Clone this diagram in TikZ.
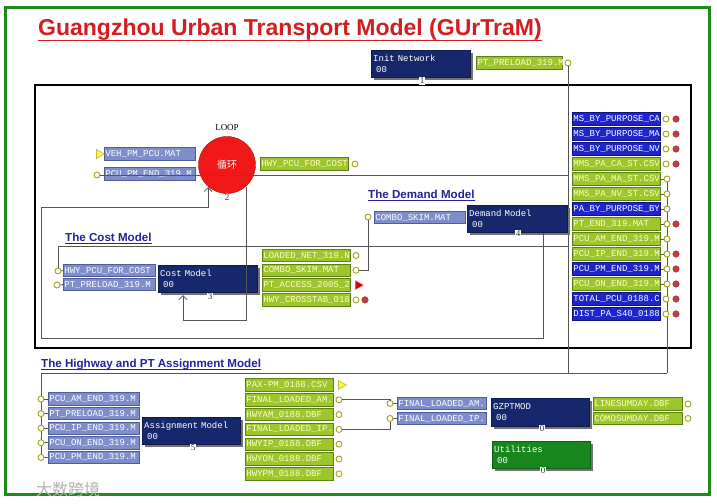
\documentclass[tikz,border=0pt]{standalone}
\usepackage{fontspec}
\setmainfont{Liberation Sans}
\newfontfamily\monof{Liberation Mono}
\newfontfamily\cjk{Noto Sans CJK SC}
\newfontfamily\serf{Liberation Serif}
\usetikzlibrary{shapes.geometric,arrows.meta,shadows}
\definecolor{navy}{HTML}{16276B}
\definecolor{peri}{HTML}{7F8ECB}
\definecolor{periB}{HTML}{4E5C9C}
\definecolor{lgreen}{HTML}{9CC62B}
\definecolor{lgreenB}{HTML}{5E8014}
\definecolor{fblue}{HTML}{1E24CE}
\definecolor{fblueB}{HTML}{10147A}
\definecolor{ugreen}{HTML}{18861C}
\definecolor{framec}{HTML}{1E8A1E}
\definecolor{wirec}{HTML}{555555}
\definecolor{portc}{HTML}{A6A21E}
\definecolor{rdotc}{HTML}{C43C3C}
\definecolor{titlered}{HTML}{D21E1E}
\definecolor{secblue}{HTML}{23239A}
\definecolor{loopred}{HTML}{F01818}
\tikzset{
 fbase/.style={rectangle, draw, line width=0.8pt, minimum height=12.5pt, inner xsep=1pt, inner ysep=0pt, text width=86pt, align=left, font=\monof\fontsize{9}{10}\selectfont, anchor=west},
 ffile/.style={fbase, fill=peri, draw=periB, text=white},
 gfile/.style={fbase, fill=lgreen, draw=lgreenB, text=white!80!yellow},
 bfile/.style={fbase, fill=fblue, draw=fblueB, text=white},
 prog/.style={rectangle, fill=navy, draw=navy!70!black, anchor=north west, minimum height=27pt, inner xsep=2pt, inner ysep=1pt, align=left, text=white, font=\monof\fontsize{9}{11}\selectfont, drop shadow={shadow xshift=3pt, shadow yshift=-3pt, fill=black!55, opacity=1}},
 num/.style={fill=white, inner sep=0.6pt, font=\serf\fontsize{9}{9}\selectfont, text=black!80},
 port/.style={circle, draw=portc, fill=white, line width=0.9pt, minimum size=6pt, inner sep=0pt},
 rdot/.style={circle, fill=rdotc, draw=rdotc!70!black, minimum size=6.5pt, inner sep=0pt},
 ytri/.style={isosceles triangle, isosceles triangle stretches, fill=yellow!75!white, draw=portc, minimum height=8pt, minimum width=9pt, inner sep=0pt},
 rtri/.style={isosceles triangle, isosceles triangle stretches, fill=red!85!black, draw=red!60!white, minimum height=8pt, minimum width=9pt, inner sep=0pt},
 wire/.style={draw=wirec, line width=0.8pt},
 sec/.style={font=\bfseries\fontsize{11.6}{13}\selectfont, text=secblue, inner sep=0pt, anchor=base west},
 barb/.style={-{Straight Barb[length=4pt,width=8pt]}},
}
\begin{document}
\begin{tikzpicture}[x=1pt,y=-1pt]
\useasboundingbox (0,0) rectangle (717,503);
\fill[white] (0,0) rectangle (717,503);
\draw[framec, line width=3pt] (5,8) rectangle (709.5,494);
% title
\node[anchor=base west, font=\bfseries\fontsize{23}{26}\selectfont, text=titlered, inner sep=0pt] (title) at (38,36) {Guangzhou Urban Transport Model (GUrTraM)};
\draw[titlered, line width=1.6pt] ([yshift=-4.5pt]title.base west) -- ([yshift=-4.5pt]title.base east);
% main box
\draw[line width=2pt] (35,85) rectangle (691,348);
% init network
\node[prog, minimum width=99pt, text width=95pt] (init) at (371,50) {Init Network\\\hspace*{3pt}00};
\node[num] (initn) at (422,81) {1};
\node[gfile, text width=84pt] (ppre) at (476,63) {PT\_PRELOAD\_319.M};
\node[port] (ppreP) at (568,63) {};
\coordinate (bus) at (41,373);
\coordinate (b246) at (568,246);
\draw[wire] (ppreP.south) -- (ppreP.south |- bus);
\draw[wire] (bus) -- (667,373);
% section labels
\node[sec] (seccost) at (65,241) {The Cost Model};
\draw[secblue, line width=1pt] ([yshift=-2.5pt]seccost.base west) -- ([yshift=-2.5pt]seccost.base east);
\node[sec] (secdem) at (368,198) {The Demand Model};
\draw[secblue, line width=1pt] ([yshift=-2.5pt]secdem.base west) -- ([yshift=-2.5pt]secdem.base east);
\node[sec] (secasg) at (41,367) {The Highway and PT Assignment Model};
\draw[secblue, line width=1pt] ([yshift=-2.5pt]secasg.base west) -- ([yshift=-2.5pt]secasg.base east);
% LOOP
\node[ffile, text width=89pt] (veh) at (104,154) {VEH\_PM\_PCU.MAT};
\node[ytri] (vehT) at (99,154) {};
\node[ffile, text width=89pt] (pcupm) at (104,174) {PCU\_PM\_END\_319.M};
\node[circle, fill=loopred, draw=loopred!70!black, minimum size=57pt, inner sep=0pt, text=white, font=\cjk\fontsize{10}{10}\selectfont] (loop) at (227,165) {循环};
\node[font=\serf\fontsize{9}{9}\selectfont, inner sep=0pt] (looplbl) at (227,128) {LOOP};
\node[num, fill=none] (loopn) at (227,198) {2};
\node[gfile] (hwyo) at (260,164) {HWY\_PCU\_FOR\_COST};
\node[port] (hwyoP) at (355,164) {};
\node[port] (pcupmP) at (97,175) {};
\draw[wire] (pcupmP.east) -- (pcupmP.east -| ppreP);
% Demand model
\node[ffile, text width=89pt] (dcombo) at (374,217.5) {COMBO\_SKIM.MAT};
\node[prog, minimum width=100pt, text width=96pt] (dem) at (467,205) {Demand Model\\\hspace*{3pt}00};
\coordinate (demOut) at (543,233);
\coordinate (lb1) at (543,338);
\coordinate (lb2) at (41,338);
\coordinate (lb3) at (41,207);
\coordinate (lb4) at (208,207);
\coordinate (loopIn) at (208,187);
\draw[wire, barb] (demOut) -- (lb1) -- (lb2) -- (lb3) -- (lb4) -- (loopIn);
\node[num] (demn) at (518,234) {4};
% Cost model
\node[ffile, text width=90pt] (chwy) at (63,270.5) {HWY\_PCU\_FOR\_COST};
\node[ffile, text width=90pt] (cpre) at (63,284.5) {PT\_PRELOAD\_319.M};
\node[prog, minimum width=99pt, text width=95pt] (cost) at (158,265) {Cost Model\\\hspace*{3pt}00};
\coordinate (loopOut) at (246,187);
\coordinate (cl1) at (246,320);
\coordinate (cl2) at (183,320);
\coordinate (costIn) at (183,295);
\draw[wire, barb] (loopOut) -- (cl1) -- (cl2) -- (costIn);
\node[num] (costn) at (210,297) {3};
\node[gfile] (lnet) at (262,255.5) {LOADED\_NET\_319.N};
\node[gfile] (ccombo) at (262,270.3) {COMBO\_SKIM.MAT};
\node[gfile] (pacc) at (262,285.1) {PT\_ACCESS\_2005\_2};
\node[gfile] (hxt) at (262,299.9) {HWY\_CROSSTAB\_018};
\node[port] (lnetP) at (356,255.5) {};
\node[port] (ccomboP) at (356,270.3) {};
\node[rtri] (paccT) at (358,285.1) {};
\node[port] (hxtP) at (356,299.9) {};
\node[rdot] (hxtR) at (365,299.9) {};
\node[port] (dcomboP) at (368,217) {};
\draw[wire] (ccomboP.east) -| (dcomboP.south);
\node[port] (chwyP) at (58,271) {};
\node[port] (cpreP) at (57,285) {};
\draw[wire] (b246) -| (chwyP.north);
\draw[wire] (cpreP.east) -- (cpre.west);
\draw[wire] (chwyP.east) -- (chwy.west);
% right column
\node[bfile] (rc1) at (572,119) {MS\_BY\_PURPOSE\_CA};
\node[bfile] (rc2) at (572,134) {MS\_BY\_PURPOSE\_MA};
\node[bfile] (rc3) at (572,149) {MS\_BY\_PURPOSE\_NV};
\node[gfile] (rc4) at (572,164) {MMS\_PA\_CA\_ST.CSV};
\node[gfile] (rc5) at (572,179) {MMS\_PA\_MA\_ST.CSV};
\node[gfile] (rc6) at (572,194) {MMS\_PA\_NV\_ST.CSV};
\node[bfile] (rc7) at (572,209) {PA\_BY\_PURPOSE\_BY};
\node[gfile] (rc8) at (572,224) {PT\_END\_319.MAT};
\node[gfile] (rc9) at (572,239) {PCU\_AM\_END\_319.M};
\node[gfile] (rc10) at (572,254) {PCU\_IP\_END\_319.M};
\node[bfile] (rc11) at (572,269) {PCU\_PM\_END\_319.M};
\node[gfile] (rc12) at (572,284) {PCU\_ON\_END\_319.M};
\node[bfile] (rc13) at (572,299) {TOTAL\_PCU\_0188.C};
\node[bfile] (rc14) at (572,314) {DIST\_PA\_S40\_0188};
\coordinate (rbus) at (667,373);
\draw[wire] (667,179) -- (rbus);
\foreach \i in {5,...,12} { \draw[wire] (rc\i.east) -- (667, 0 |- rc\i.east); }
\node[port] (rc1P) at (666,119) {};
\node[port] (rc2P) at (666,134) {};
\node[port] (rc3P) at (666,149) {};
\node[port] (rc4P) at (666,164) {};
\node[port] (rc5P) at (667,179) {};
\node[port] (rc6P) at (667,194) {};
\node[port] (rc7P) at (667,209) {};
\node[port] (rc8P) at (667,224) {};
\node[port] (rc9P) at (667,239) {};
\node[port] (rc10P) at (667,254) {};
\node[port] (rc11P) at (667,269) {};
\node[port] (rc12P) at (667,284) {};
\node[port] (rc13P) at (666,299) {};
\node[port] (rc14P) at (666,314) {};
\node[rdot] (rc1R) at (676,119) {};
\node[rdot] (rc2R) at (676,134) {};
\node[rdot] (rc3R) at (676,149) {};
\node[rdot] (rc4R) at (676,164) {};
\node[rdot] (rc8R) at (676,224) {};
\node[rdot] (rc10R) at (676,254) {};
\node[rdot] (rc11R) at (676,269) {};
\node[rdot] (rc12R) at (676,284) {};
\node[rdot] (rc13R) at (676,299) {};
\node[rdot] (rc14R) at (676,314) {};
% assignment
\draw[wire] (bus) -- (41,458);
\node[ffile, text width=89pt] (a1) at (48,399) {PCU\_AM\_END\_319.M};
\node[ffile, text width=89pt] (a2) at (48,413.6) {PT\_PRELOAD\_319.M};
\node[ffile, text width=89pt] (a3) at (48,428.2) {PCU\_IP\_END\_319.M};
\node[ffile, text width=89pt] (a4) at (48,442.8) {PCU\_ON\_END\_319.M};
\node[ffile, text width=89pt] (a5) at (48,457.4) {PCU\_PM\_END\_319.M};
\foreach \i in {1,...,5} { \draw[wire] (41, 0 |- a\i.west) -- (a\i.west); }
\node[port] (a1P) at (41,399) {};
\node[port] (a2P) at (41,413.6) {};
\node[port] (a3P) at (41,428.2) {};
\node[port] (a4P) at (41,442.8) {};
\node[port] (a5P) at (41,457.4) {};
\node[prog, minimum width=98pt, text width=94pt] (asg) at (142,417) {Assignment Model\\\hspace*{3pt}00};
\node[num] (asgn) at (193,448) {5};
\node[gfile] (o1) at (245,385) {PAX-PM\_0188.CSV};
\node[gfile] (o2) at (245,399.8) {FINAL\_LOADED\_AM.};
\node[gfile] (o3) at (245,414.6) {HWYAM\_0188.DBF};
\node[gfile] (o4) at (245,429.4) {FINAL\_LOADED\_IP.};
\node[gfile] (o5) at (245,444.2) {HWYIP\_0188.DBF};
\node[gfile] (o6) at (245,459) {HWYON\_0188.DBF};
\node[gfile] (o7) at (245,473.8) {HWYPM\_0188.DBF};
\node[ytri] (o1T) at (341,385) {};
\node[port] (o2P) at (339,399.8) {};
\node[port] (o3P) at (339,414.6) {};
\node[port] (o4P) at (339,429.4) {};
\node[port] (o5P) at (339,444.2) {};
\node[port] (o6P) at (339,459) {};
\node[port] (o7P) at (339,473.8) {};
% GZPTMOD
\node[ffile, text width=87pt] (fam) at (397,403.5) {FINAL\_LOADED\_AM.};
\node[ffile, text width=87pt] (fip) at (397,418.5) {FINAL\_LOADED\_IP.};
\node[port] (famP) at (390,403.5) {};
\node[port] (fipP) at (390,418.5) {};
\draw[wire] (o2P.east) -| (famP.north);
\draw[wire] (o4P.east) -| (fipP.south);
\draw[wire] (famP.east) -- (fam.west);
\draw[wire] (fipP.east) -- (fip.west);
\node[prog, minimum width=98pt, minimum height=28pt, text width=94pt] (gz) at (491,398) {GZPTMOD\\\hspace*{3pt}00};
\node[num] (gzn) at (542,429) {0};
\node[gfile, text width=87pt] (ls) at (593,404) {LINESUMDAY.DBF};
\node[gfile, text width=87pt] (cs) at (593,418.5) {COMOSUMDAY.DBF};
\node[port] (lsP) at (688,404) {};
\node[port] (csP) at (688,418.5) {};
\node[prog, fill=ugreen, draw=ugreen!70!black, minimum width=98pt, text width=94pt] (util) at (492,441) {Utilities\\\hspace*{3pt}00};
\node[num] (utiln) at (543,471) {0};
% watermark
\node[font=\cjk\fontsize{16}{16}\selectfont, text=black!30, inner sep=0pt, anchor=west] (wm) at (36,489) {大数跨境};
\end{tikzpicture}
\end{document}
